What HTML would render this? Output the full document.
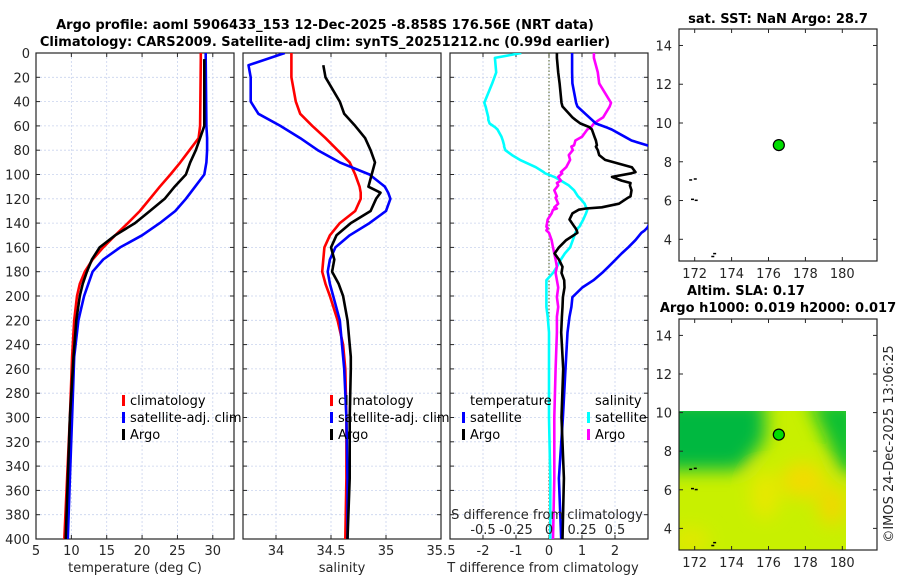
<!DOCTYPE html>
<html><head><meta charset="utf-8">
<style>
html,body{margin:0;padding:0;background:#fff;}
svg{display:block;font-family:"DejaVu Sans","Liberation Sans",sans-serif;}
.tk{font-size:13px;fill:#262626;}
.tt{font-size:13px;font-weight:bold;fill:#000;}
.lg{font-size:13px;fill:#000;}
</style></head>
<body>
<svg id="chart" width="900" height="580" viewBox="0 0 900 580" xmlns="http://www.w3.org/2000/svg">
<defs>
<clipPath id="c1"><rect x="36" y="53" width="198" height="486"/></clipPath>
<clipPath id="c2"><rect x="243" y="53" width="198" height="486"/></clipPath>
<clipPath id="c3"><rect x="450" y="53" width="198" height="486"/></clipPath>
<clipPath id="cm"><rect x="679" y="411" width="167" height="139"/></clipPath>
<filter id="bl"><feGaussianBlur stdDeviation="9"/></filter>
</defs>
<g id="root"></g>
</svg>
<script>
// ---- data ----
const depthT = [0,5,60,70,80,90,100,110,120,130,140,150,160,170,180,190,200,220,250,300,350,400];
const tClim  = [28.3,28.3,28.2,28,26.7,25.4,24,22.5,21.1,19.7,18,16.2,14.5,13,11.9,11.2,10.8,10.4,10.1,9.8,9.4,9.0];
const tSat   = [29.0,29.0,29.1,29.2,29.2,29.1,28.8,27.5,26.2,24.7,22.5,20,16.9,14.5,13,12.4,11.8,11,10.4,10.1,9.8,9.5];
const tArgo  = [null,28.8,28.8,28.2,27.6,26.8,26.2,24.6,23.2,21.1,19,16.2,14,12.9,12.2,11.6,11.2,10.7,10.3,9.8,9.5,9.2];

const depthS = [0,10,20,40,50,60,70,80,90,100,110,115,120,130,140,150,160,170,180,190,200,220,240,250,260,300,350,400];
const sClim  = [34.14,34.14,34.14,34.18,34.22,34.33,34.45,34.56,34.67,34.72,34.76,34.77,34.77,34.72,34.58,34.49,34.44,34.43,34.42,34.45,34.49,34.56,34.61,34.62,34.63,34.64,34.64,34.63];
const sSat   = [34.08,33.75,33.77,33.77,33.84,34.04,34.22,34.38,34.58,34.85,34.99,35.02,35.04,35.0,34.85,34.67,34.54,34.49,34.47,34.49,34.52,34.58,34.6,34.61,34.62,34.64,34.65,34.65];
const sArgo  = [null,34.43,34.45,34.58,34.62,34.72,34.81,34.86,34.9,34.87,34.84,34.95,34.91,34.86,34.68,34.55,34.5,34.53,34.51,34.57,34.61,34.65,34.67,34.68,34.68,34.67,34.67,34.65];

const depthD = [0,4,16,25,41,44,53,55,58,61,63,69,72,76,77,80,84,88,94,98,99,102,105,107,109,113,118,119,124,127,128,129,132,137,143,144,146,148,154,160,165,170,176,181,187,193,201,209,217,230,260,300,350,400];
const dSsat  = [-0.21,-0.41,-0.40,-0.43,-0.49,-0.48,-0.46,-0.46,-0.45,-0.41,-0.39,-0.36,-0.35,-0.34,-0.34,-0.33,-0.28,-0.22,-0.1,-0.04,-0.03,0.04,0.09,0.12,0.15,0.19,0.22,0.23,0.27,0.28,0.29,0.29,0.28,0.26,0.23,0.22,0.21,0.2,0.18,0.16,0.12,0.09,0.06,0.03,-0.02,-0.02,-0.02,-0.02,-0.01,0,0,0,0.01,0.01];
const dSargo = [0.34,0.34,0.37,0.38,0.47,0.46,0.41,0.38,0.34,0.32,0.29,0.25,0.2,0.19,0.17,0.18,0.15,0.16,0.13,0.09,0.1,0.07,0.09,0.06,0.07,0.04,0.06,0.05,0.07,0.04,0.06,0.03,0.02,-0.01,-0.02,-0.01,-0.02,0.0,0.02,0.03,0.04,0.05,0.06,0.05,0.06,0.07,0.06,0.07,0.06,0.06,0.05,0.04,0.04,0.03];
const dTsat  = [0.7,0.7,0.7,0.71,0.82,0.86,1.22,1.3,1.42,1.72,1.9,2.3,2.5,2.97,3.1,3.3,3.5,3.6,3.8,3.9,3.9,3.9,3.9,3.9,3.9,3.9,3.8,3.8,3.7,3.6,3.5,3.4,3.3,3.1,3.0,2.97,2.9,2.8,2.62,2.4,2.2,2.02,1.8,1.61,1.35,1.01,0.71,0.68,0.62,0.56,0.5,0.42,0.3,0.37];
const dTargo = [0.24,0.24,0.28,0.32,0.38,0.41,0.71,0.8,0.95,1.22,1.3,1.38,1.42,1.45,1.42,1.48,1.52,1.7,2.51,2.62,2.5,1.91,2.2,2.47,2.45,2.5,2.47,2.4,2.12,1.6,1.12,0.9,0.71,0.62,0.77,0.8,0.84,0.86,0.52,0.3,0.17,0.3,0.41,0.38,0.46,0.47,0.42,0.41,0.39,0.37,0.43,0.38,0.45,0.41];

const depthTicks = [0,20,40,60,80,100,120,140,160,180,200,220,240,260,280,300,320,340,360,380,400];
const tTicks = [5,10,15,20,25,30];
const sTicks = [34,34.5,35,35.5];
const dtTicks = [-2,-1,0,1,2];
const dsTicks = [-0.5,-0.25,0,0.25,0.5];
const dsTickLabels = ["-0.5","-0.25","0","0.25","0.5"];
const lonTicks = [172,174,176,178,180];
const latTicks = [4,6,8,10,12,14];
const floatLon = 176.56, floatLat = 8.86;

// ---- scales ----
const Y0=53, Y1=539;
const yD = d => Y0 + (d/400)*(Y1-Y0);
const xT = t => 36 + (t-5)/(33-5)*198;
const xS = s => 243 + (s-33.7)/(35.5-33.7)*198;
const xDT = v => 450 + (v+3)/6*198;
const xDS = v => 450 + (v+0.75)/1.5*198;
const mx = lon => 679 + (lon-171.15)/(181.88-171.15)*198;
const myTop = lat => 29 + (14.85-lat)/(14.85-2.88)*232;
const myBot = lat => 319 + (14.85-lat)/(14.85-2.88)*231;

const NS="http://www.w3.org/2000/svg";
const root=document.getElementById('root');
function mk(tag,attrs,parent,text){const e=document.createElementNS(NS,tag);for(const k in attrs)e.setAttribute(k,attrs[k]);if(text!==undefined)e.textContent=text;(parent||root).appendChild(e);return e;}

function line(depths,vals,xf,color,clip,name){
  let d='';let pen=false;
  for(let i=0;i<depths.length;i++){const v=vals[i];if(v===null||v===undefined){pen=false;continue;}
    d+=(pen?'L':'M')+xf(v).toFixed(1)+' '+yD(depths[i]).toFixed(1);pen=true;}
  const p=mk('path',{d:d,fill:'none',stroke:color,'stroke-width':2.6,'stroke-linejoin':'round','clip-path':'url(#'+clip+')'});
  
  
}

function panel(x0,name,vgrid,xf){
  const g=mk('g',{});
  
  
  depthTicks.forEach(d=>{if(d>0&&d<400)mk('line',{x1:x0,x2:x0+198,y1:yD(d),y2:yD(d),stroke:'#c9d3ee','stroke-width':0.8,'stroke-dasharray':'2 2'},g);
    mk('line',{x1:x0,x2:x0+4,y1:yD(d),y2:yD(d),stroke:'#262626'},g);
    mk('line',{x1:x0+198,x2:x0+194,y1:yD(d),y2:yD(d),stroke:'#262626'},g);});
  vgrid.forEach(v=>{const x=xf(v);if(x>x0+1&&x<x0+197){mk('line',{x1:x,x2:x,y1:Y0,y2:Y1,stroke:'#c9d3ee','stroke-width':0.8,'stroke-dasharray':'2 2'},g);}
    mk('line',{x1:x,x2:x,y1:Y1,y2:Y1-4,stroke:'#262626'},g);mk('line',{x1:x,x2:x,y1:Y0,y2:Y0+4,stroke:'#262626'},g);});
  mk('rect',{x:x0,y:Y0,width:198,height:Y1-Y0,fill:'none',stroke:'#262626','stroke-width':1.2},g);
  return g;
}

// titles
let t=mk('text',{x:325,y:29,'text-anchor':'middle',class:'tt'},root,'Argo profile: aoml 5906433_153 12-Dec-2025 -8.858S 176.56E (NRT data)');

t=mk('text',{x:325,y:46,'text-anchor':'middle',class:'tt'},root,'Climatology: CARS2009. Satellite-adj clim: synTS_20251212.nc (0.99d earlier)');


// panel 1 temperature
panel(36,'temperature-panel',[10,15,20,25,30],xT);
depthTicks.forEach(d=>{const e=mk('text',{x:30,y:yD(d)+5,'text-anchor':'end',class:'tk'},root,String(d));});
tTicks.forEach(v=>{const e=mk('text',{x:xT(v),y:555,'text-anchor':'middle',class:'tk'},root,String(v));});
t=mk('text',{x:135,y:572,'text-anchor':'middle',class:'tk'},root,'temperature (deg C)');
line(depthT,tClim,xT,'#ff0000','c1','temperature-climatology-line');
line(depthT,tSat,xT,'#0000ff','c1','temperature-satellite-line');
line(depthT,tArgo,xT,'#000000','c1','temperature-argo-line');

// panel 2 salinity
panel(243,'salinity-panel',[34,34.5,35],xS);
sTicks.forEach(v=>{const e=mk('text',{x:xS(v),y:555,'text-anchor':'middle',class:'tk'},root,String(v));});
t=mk('text',{x:342,y:572,'text-anchor':'middle',class:'tk'},root,'salinity');
line(depthS,sClim,xS,'#ff0000','c2','salinity-climatology-line');
line(depthS,sSat,xS,'#0000ff','c2','salinity-satellite-line');
line(depthS,sArgo,xS,'#000000','c2','salinity-argo-line');

// panel 3 differences
panel(450,'difference-panel',[-2,-1,0,1,2],xDT);
mk('line',{x1:xDT(0),x2:xDT(0),y1:Y0,y2:Y1,stroke:'#4a5a20','stroke-width':1,'stroke-dasharray':'1.5 2'});
dtTicks.forEach(v=>{const e=mk('text',{x:xDT(v),y:555,'text-anchor':'middle',class:'tk'},root,String(v));});
t=mk('text',{x:543,y:572,'text-anchor':'middle',class:'tk'},root,'T difference from climatology');
line(depthD,dSsat,xDS,'#00ffff','c3','salinity-satellite-diff-line');
line(depthD,dSargo,xDS,'#ff00ff','c3','salinity-argo-diff-line');
line(depthD,dTsat,xDT,'#0000ff','c3','temperature-satellite-diff-line');
line(depthD,dTargo,xDT,'#000000','c3','temperature-argo-diff-line');
t=mk('text',{x:547,y:519,'text-anchor':'middle',class:'tk'},root,'S difference from climatology');
dsTicks.forEach((v,i)=>{const e=mk('text',{x:xDS(v),y:534,'text-anchor':'middle',class:'tk'},root,dsTickLabels[i]);});

// legends
function legItem(x,y,color,label,name){
  const g=mk('g',{});
  mk('rect',{x:x,y:y-10,width:3,height:11,fill:color},g);
  mk('text',{x:x+8,y:y,class:'lg'},g,label);
}
legItem(122,405,'#ff0000','climatology','legend-climatology');
legItem(122,422,'#0000ff','satellite-adj. clim','legend-satellite');
legItem(122,439,'#000000','Argo','legend-argo');
legItem(330,405,'#ff0000','climatology','legend-climatology-2');
legItem(330,422,'#0000ff','satellite-adj. clim','legend-satellite-2');
legItem(330,439,'#000000','Argo','legend-argo-2');
t=mk('text',{x:470,y:405,class:'lg'},root,'temperature');
t=mk('text',{x:595,y:405,class:'lg'},root,'salinity');
legItem(462,422,'#0000ff','satellite','legend-t-satellite');
legItem(462,439,'#000000','Argo','legend-t-argo');
legItem(587,422,'#00ffff','satellite','legend-s-satellite');
legItem(587,439,'#ff00ff','Argo','legend-s-argo');

// maps
function mapAxes(top,bot,myf,name){
  const g=mk('g',{});
  mk('rect',{x:679,y:top,width:198,height:bot-top,fill:'none',stroke:'#262626','stroke-width':1.2},g);
  latTicks.forEach(v=>{const y=myf(v);mk('line',{x1:679,x2:683,y1:y,y2:y,stroke:'#262626'},g);mk('line',{x1:877,x2:873,y1:y,y2:y,stroke:'#262626'},g);
    mk('text',{x:672,y:y+5,'text-anchor':'end',class:'tk'},g,String(v));});
  lonTicks.forEach(v=>{const x=mx(v);mk('line',{x1:x,x2:x,y1:bot,y2:bot-4,stroke:'#262626'},g);mk('line',{x1:x,x2:x,y1:top,y2:top+4,stroke:'#262626'},g);
    mk('text',{x:x,y:bot+17,'text-anchor':'middle',class:'tk'},g,String(v));});
  return g;
}
function islands(myf,g){
  [[171.7,7.1],[171.95,7.15],[171.8,6.1],[172.0,6.05],[172.9,3.15],[173.0,3.3]].forEach(p=>mk('rect',{x:mx(p[0]),y:myf(p[1]),width:3,height:1.5,fill:'#000'},g));
}
const g1=mapAxes(29,261,myTop,'sst-map');
islands(myTop,g1);
let dot=mk('circle',{cx:mx(floatLon),cy:myTop(floatLat),r:5.5,fill:'#00dd00',stroke:'#000','stroke-width':1.2},g1);

t=mk('text',{x:778,y:23,'text-anchor':'middle',class:'tt'},root,'sat. SST: NaN Argo: 28.7');

// SLA heatmap
const hm=mk('g',{'clip-path':'url(#cm)'});
mk('rect',{x:679,y:411,width:167,height:139,fill:'#c8f000'},hm);
const bg=mk('g',{filter:'url(#bl)'},hm);
mk('path',{d:'M660 400 L765 400 L765 440 L740 470 L700 470 L660 470 Z',fill:'#00b840'},bg);
mk('path',{d:'M808 400 L860 400 L860 480 L840 470 Z',fill:'#10c030'},bg);
mk('ellipse',{cx:803,cy:480,rx:22,ry:18,fill:'#f2dc00'},bg);
mk('ellipse',{cx:832,cy:505,rx:14,ry:20,fill:'#f0d800'},bg);
mk('ellipse',{cx:765,cy:495,rx:14,ry:24,fill:'#e8e800'},bg);
mk('ellipse',{cx:690,cy:540,rx:20,ry:12,fill:'#e2e800'},bg);
const g2=mapAxes(319,550,myBot,'sla-map');
islands(myBot,g2);
dot=mk('circle',{cx:mx(floatLon),cy:myBot(floatLat),r:5.5,fill:'#00dd00',stroke:'#000','stroke-width':1.2},g2);

t=mk('text',{x:746,y:295,'text-anchor':'middle',class:'tt'},root,'Altim. SLA: 0.17');
t=mk('text',{x:778,y:312,'text-anchor':'middle',class:'tt'},root,'Argo h1000: 0.019 h2000: 0.017');
t=mk('text',{x:0,y:0,transform:'translate(893,444) rotate(-90)','text-anchor':'middle',class:'tk'},root,'©IMOS 24-Dec-2025 13:06:25');
</script>
</body></html>
